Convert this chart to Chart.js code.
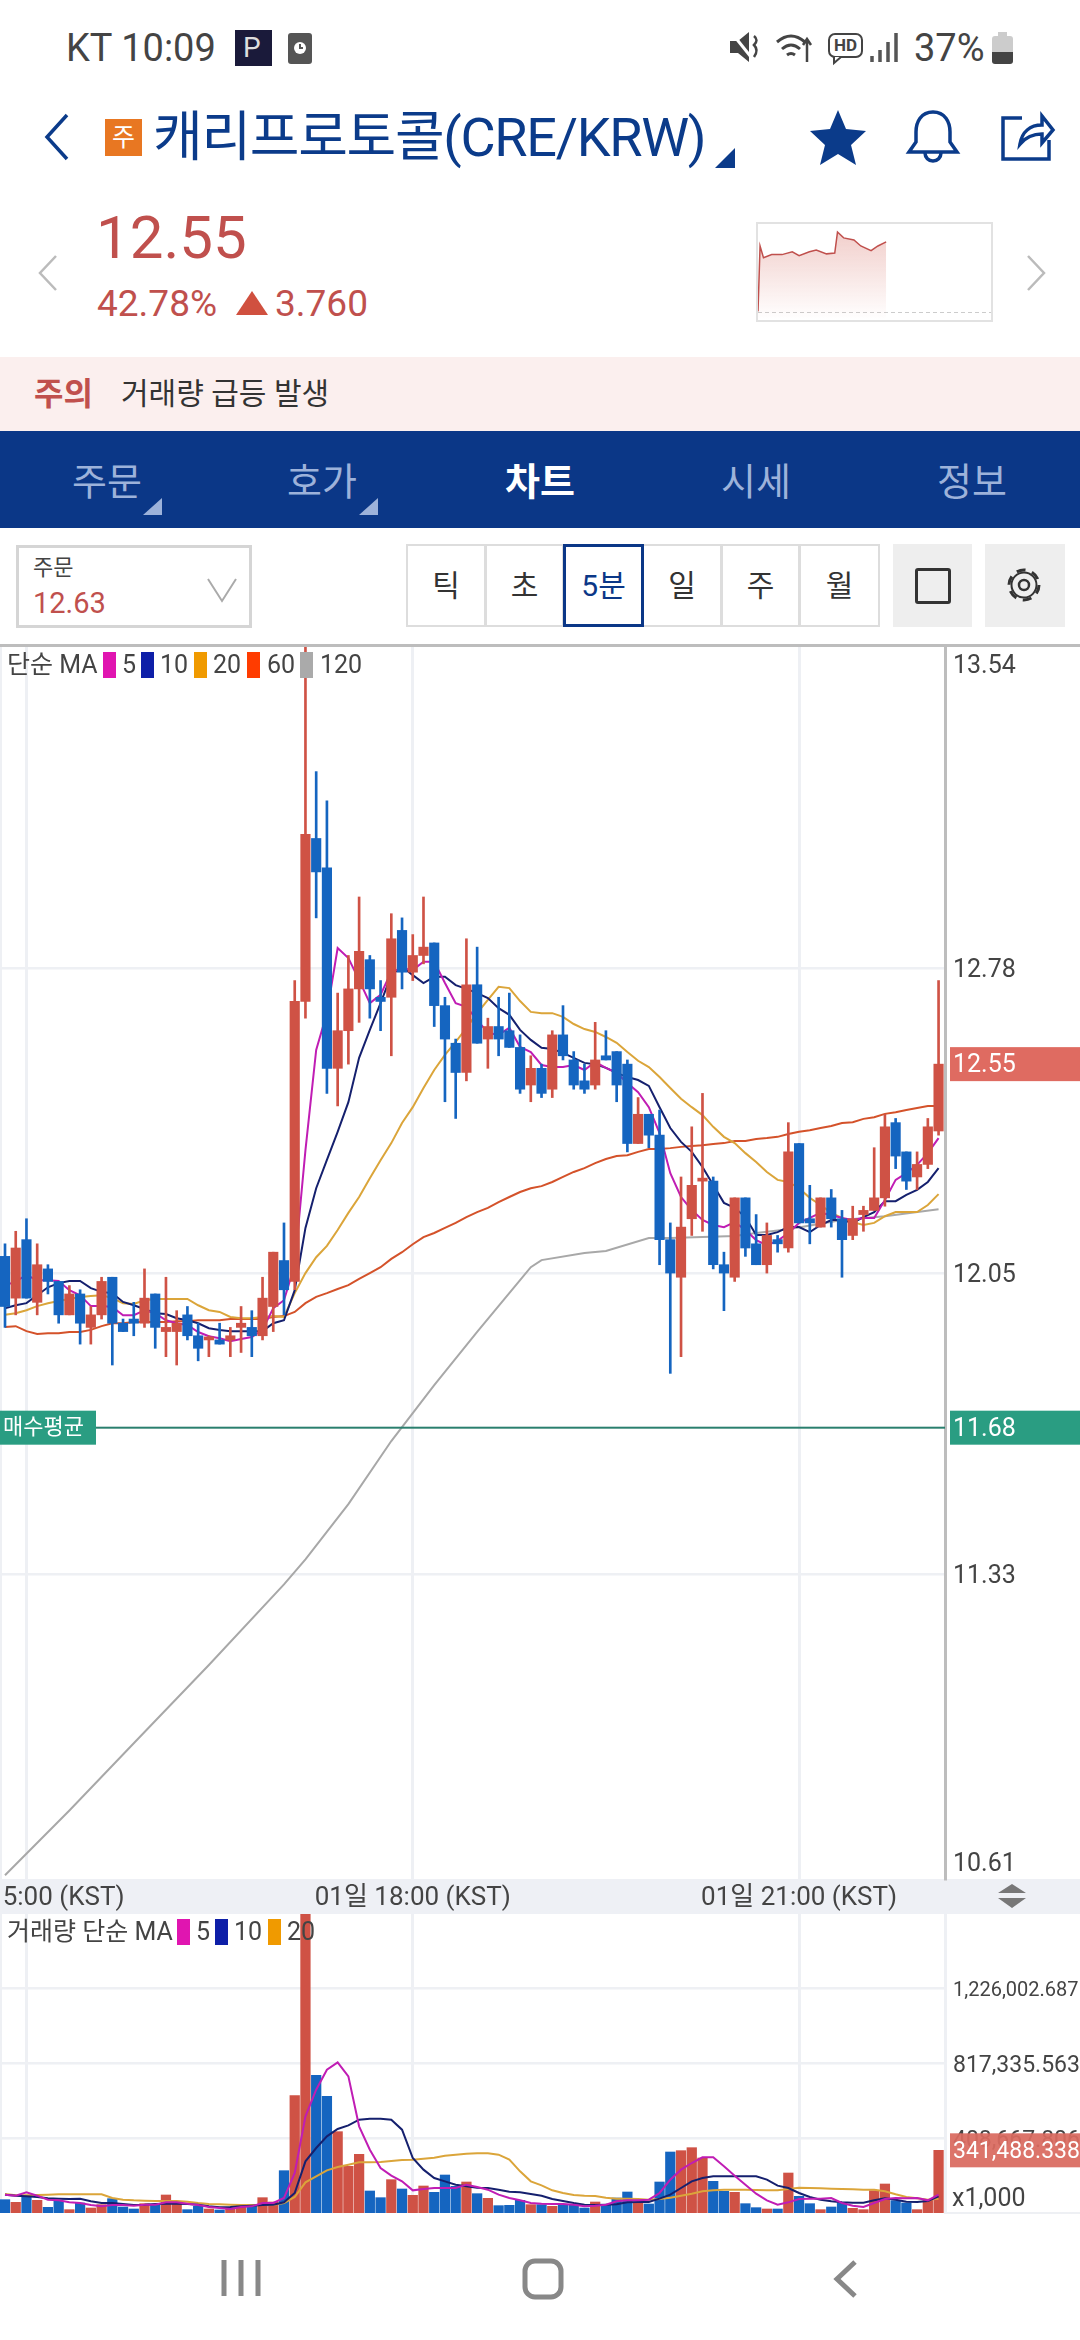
<!DOCTYPE html>
<html lang="ko">

<head>
  <meta charset="UTF-8" />
  <title>캐리프로토콜(CRE/KRW)</title>
  <script src="https://cdn.jsdelivr.net/npm/chart.js"></script>
  <style>
    html, body { margin: 0; padding: 0; background: #fff; }
    body { width: 1080px; height: 2340px; position: relative; overflow: hidden; font-family: Roboto, "Noto Sans CJK KR", sans-serif; color: #444; }
    .t { position: absolute; white-space: nowrap; }
    .b { position: absolute; box-sizing: border-box; }
    svg { position: absolute; overflow: visible; }
    canvas { position: absolute; left: 0; }
    .sw { position: absolute; width: 13px; height: 26px; }
    .cell { position: absolute; top: 544px; height: 83px; box-sizing: border-box; text-align: center; line-height: 79px; font-size: 30px; color: #333; border: 2px solid #ddd; background: #fff; }
    .tab { position: absolute; top: 434px; height: 97px; width: 200px; text-align: center; line-height: 97px; font-size: 38px; color: #9DB2DA; }
  </style>
</head>

<body>
  <!-- status bar -->
  <div class="t" style="left:66px;top:26px;font-size:38px;line-height:44px;color:#444">KT 10:09</div>
  <div class="b" style="left:235px;top:30px;width:37px;height:36px;background:#1A1A3A"></div>
  <div class="t" style="left:243px;top:31px;font-size:28px;line-height:34px;color:#ddd">P</div>
  <div class="b" style="left:288px;top:33px;width:24px;height:31px;background:#555;border-radius:3px"></div>
  <svg style="left:292px;top:40px" width="16" height="16"><circle cx="8" cy="8" r="6" fill="#fff"/><path d="M8 4v4h3" stroke="#555" stroke-width="2" fill="none"/></svg>
  <svg style="left:730px;top:30px" width="32" height="34"><path d="M0 11h8l11-9v30l-11-9H0z" fill="#444"/><path d="M1 2l24 30" stroke="#fff" stroke-width="3"/><path d="M24 6q5 4 0 9q5 5 0 12" stroke="#444" stroke-width="2.5" fill="none"/></svg>
  <svg style="left:776px;top:32px" width="40" height="32"><path d="M1 10q14-12 28 0M6 17q9-8 18 0M11 23q4-3 8 0" stroke="#444" stroke-width="3" fill="none"/><path d="M31 30V8m-4 5l4-6 4 6" stroke="#444" stroke-width="2.5" fill="none"/></svg>
  <svg style="left:828px;top:33px" width="36" height="32"><rect x="1" y="1" width="33" height="23" rx="6" stroke="#444" stroke-width="2" fill="none"/><path d="M6 24v6l7-6" stroke="#444" stroke-width="2" fill="#fff"/></svg>
  <div class="t" style="left:834px;top:35px;font-size:17px;line-height:20px;font-weight:bold;color:#444">HD</div>
  <svg style="left:870px;top:33px" width="30" height="30"><path d="M2 29v-6M10 29v-12M18 29v-20M26 29V0" stroke="#555" stroke-width="3.5"/></svg>
  <div class="t" style="left:914px;top:26px;font-size:38px;line-height:44px;color:#444">37%</div>
  <div class="b" style="left:992px;top:36px;width:21px;height:27px;background:#ccc;border-radius:3px"></div>
  <div class="b" style="left:992px;top:52px;width:21px;height:12px;background:#444;border-radius:0 0 3px 3px"></div>
  <div class="b" style="left:998px;top:32px;width:9px;height:4px;background:#ccc"></div>

  <!-- title row -->
  <svg style="left:43px;top:113px" width="26" height="48"><path d="M24 2L4 24l20 22" stroke="#0B3B8A" stroke-width="3.5" fill="none"/></svg>
  <div class="b" style="left:105px;top:119px;width:37px;height:37px;background:#E87722;color:#fff;font-size:25px;line-height:37px;text-align:center">주</div>
  <div class="t" id="title" style="left:153px;top:106px;font-size:54px;line-height:64px;color:#0B3B8A;letter-spacing:-1.3px">캐리프로토콜(CRE/KRW)</div>
  <svg style="left:715px;top:148px" width="20" height="20"><path d="M20 0v20H0z" fill="#0B3B8A"/></svg>
  <svg style="left:810px;top:110px" width="56" height="52"><path d="M28 0l8 19 20 2-15 14 5 20-18-11-18 11 5-20L0 21l20-2z" fill="#0B3B8A"/></svg>
  <svg style="left:905px;top:110px" width="56" height="54"><path d="M28 2c-12 0-17 10-17 20v10l-7 10h48l-7-10V22c0-10-5-20-17-20z" stroke="#0B3B8A" stroke-width="3.5" fill="none"/><path d="M20 43a8 8 0 0 0 16 0" stroke="#0B3B8A" stroke-width="3.5" fill="none"/></svg>
  <svg style="left:1000px;top:110px" width="54" height="52"><path d="M22 8H3v41h46V30" stroke="#0B3B8A" stroke-width="3.5" fill="none"/><path d="M20 34c2-12 10-19 22-19V6l11 14-11 13V24c-9 0-16 3-22 10z" stroke="#0B3B8A" stroke-width="3.5" fill="none"/></svg>

  <!-- price header -->
  <div class="t" style="left:96px;top:202px;font-size:60px;line-height:72px;color:#C0504D">12.55</div>
  <div class="t" style="left:97px;top:282px;font-size:37px;line-height:44px;color:#C0504D">42.78%</div>
  <svg style="left:236px;top:291px" width="32" height="24"><path d="M16 0l16 24H0z" fill="#D0503F"/></svg>
  <div class="t" style="left:275px;top:282px;font-size:37px;line-height:44px;color:#C0504D">3.760</div>
  <svg style="left:38px;top:255px" width="20" height="36"><path d="M18 1L2 18l16 17" stroke="#bbb" stroke-width="2.5" fill="none"/></svg>
  <svg style="left:1026px;top:255px" width="20" height="36"><path d="M2 1l16 17L2 35" stroke="#bbb" stroke-width="2.5" fill="none"/></svg>
  <div class="b" style="left:756px;top:222px;width:237px;height:100px;border:2px solid #E2E2E2"></div>
  <canvas id="sparkChart" width="233" height="96" style="left:758px;top:224px"></canvas>

  <!-- notice -->
  <div class="b" style="left:0;top:357px;width:1080px;height:74px;background:#FBEFEE"></div>
  <div class="t" style="left:34px;top:372px;font-size:32px;line-height:44px;font-weight:bold;color:#C0504D">주의</div>
  <div class="t" style="left:121px;top:372px;font-size:30px;line-height:44px;color:#333">거래량 급등 발생</div>

  <!-- tabs -->
  <div class="b" style="left:0;top:431px;width:1080px;height:97px;background:#0B3787"></div>
  <div class="tab" style="left:7px">주문</div>
  <div class="tab" style="left:222px">호가</div>
  <div class="tab" style="left:440px;color:#fff;font-weight:bold">차트</div>
  <div class="tab" style="left:656px">시세</div>
  <div class="tab" style="left:872px">정보</div>
  <svg style="left:143px;top:498px" width="19" height="17"><path d="M19 0v17H0z" fill="#9DB2DA"/></svg>
  <svg style="left:359px;top:498px" width="19" height="17"><path d="M19 0v17H0z" fill="#9DB2DA"/></svg>

  <!-- toolbar -->
  <div class="b" style="left:16px;top:545px;width:236px;height:83px;border:3px solid #D5D5D5"></div>
  <div class="t" style="left:33px;top:554px;font-size:22px;line-height:28px;color:#444">주문</div>
  <div class="t" style="left:33px;top:585px;font-size:29px;line-height:36px;color:#C0504D">12.63</div>
  <svg style="left:207px;top:578px" width="30" height="24"><path d="M1 1l14 22L29 1" stroke="#aaa" stroke-width="2" fill="none"/></svg>
  <div class="cell" style="left:406px;width:80px">틱</div>
  <div class="cell" style="left:485px;width:79px">초</div>
  <div class="cell" style="left:642px;width:80px">일</div>
  <div class="cell" style="left:721px;width:79px">주</div>
  <div class="cell" style="left:799px;width:81px">월</div>
  <div class="cell" style="left:563px;width:81px;border:3px solid #0B3787;color:#0B3787;line-height:77px">5분</div>
  <div class="b" style="left:893px;top:544px;width:79px;height:83px;background:#EEE"></div>
  <div class="b" style="left:915px;top:568px;width:36px;height:36px;border:3px solid #333;border-radius:3px"></div>
  <div class="b" style="left:985px;top:544px;width:80px;height:83px;background:#EEE"></div>
  <svg style="left:1005px;top:566px" width="38" height="38" viewBox="0 0 38 38"><circle cx="19" cy="19" r="15" stroke="#333" stroke-width="3" fill="none" stroke-dasharray="9 6.7"/><circle cx="19" cy="19" r="12.5" stroke="#333" stroke-width="2" fill="none"/><circle cx="19" cy="19" r="5" stroke="#333" stroke-width="2.5" fill="none"/></svg>

  <!-- chart panels -->
  <div class="b" style="left:0;top:647px;width:2px;height:1232px;background:#EEF0F4"></div>
  <div class="b" style="left:0;top:1914px;width:2px;height:299px;background:#EEF0F4"></div>
  <div class="b" style="left:0;top:1879px;width:1080px;height:35px;background:#EEF0F5"></div>
  <canvas id="priceChart" width="1080" height="1269" style="top:645px"></canvas>
  <canvas id="volumeChart" width="1080" height="300" style="top:1914px"></canvas>
  <div class="b" style="left:0;top:644px;width:1080px;height:3px;background:#BDBDBD"></div>
  <div class="b" style="left:945px;top:2212px;width:135px;height:2px;background:#EEF0F4"></div>

  <!-- price legend -->
  <div class="t" style="left:7px;top:650px;font-size:25px;line-height:30px">단순 MA</div>
  <div class="sw" style="left:103px;top:652px;background:#E015B0"></div>
  <div class="t" style="left:122px;top:650px;font-size:25px;line-height:30px">5</div>
  <div class="sw" style="left:141px;top:652px;background:#0E1FA8"></div>
  <div class="t" style="left:160px;top:650px;font-size:25px;line-height:30px">10</div>
  <div class="sw" style="left:194px;top:652px;background:#F09A00"></div>
  <div class="t" style="left:213px;top:650px;font-size:25px;line-height:30px">20</div>
  <div class="sw" style="left:247px;top:652px;background:#FF3C00"></div>
  <div class="t" style="left:267px;top:650px;font-size:25px;line-height:30px">60</div>
  <div class="sw" style="left:300px;top:652px;background:#AAAAAA"></div>
  <div class="t" style="left:320px;top:650px;font-size:25px;line-height:30px">120</div>

  <!-- time band arrows -->
  <svg style="left:997px;top:1884px" width="30" height="25"><path d="M15 0l14 9H1zM15 24L1 14h28z" fill="#777"/></svg>

  <!-- volume legend -->
  <div class="t" style="left:7px;top:1917px;font-size:25px;line-height:30px">거래량 단순 MA</div>
  <div class="sw" style="left:177px;top:1919px;background:#E015B0"></div>
  <div class="t" style="left:196px;top:1917px;font-size:25px;line-height:30px">5</div>
  <div class="sw" style="left:215px;top:1919px;background:#0E1FA8"></div>
  <div class="t" style="left:234px;top:1917px;font-size:25px;line-height:30px">10</div>
  <div class="sw" style="left:268px;top:1919px;background:#F09A00"></div>
  <div class="t" style="left:287px;top:1917px;font-size:25px;line-height:30px">20</div>
  <div class="t" style="left:952px;top:2183px;font-size:25px;line-height:30px">x1,000</div>

  <!-- android nav -->
  <svg style="left:221px;top:2258px" width="40" height="40"><path d="M3 2v36M20 2v36M37 2v36" stroke="#888" stroke-width="5"/></svg>
  <svg style="left:522px;top:2258px" width="42" height="42"><rect x="3" y="3" width="36" height="36" rx="10" stroke="#888" stroke-width="5" fill="none"/></svg>
  <svg style="left:834px;top:2260px" width="24" height="38"><path d="M21 2L3 19l18 17" stroke="#888" stroke-width="5" fill="none"/></svg>

  <script>
    // 5 minute candles
    const candleOpen = [12.09, 11.99, 12.13, 11.98, 12.06, 12.03, 11.95, 12.00, 11.92, 11.95, 12.04, 11.93, 11.94, 11.93, 12.00, 11.91, 11.91, 11.95, 11.90, 11.89, 11.89, 11.89, 11.92, 11.92, 11.90, 11.97, 12.08, 12.03, 12.70, 13.09, 13.02, 12.54, 12.63, 12.73, 12.80, 12.71, 12.71, 12.87, 12.77, 12.81, 12.84, 12.69, 12.60, 12.53, 12.74, 12.61, 12.64, 12.63, 12.59, 12.50, 12.54, 12.49, 12.62, 12.56, 12.51, 12.50, 12.57, 12.58, 12.55, 12.36, 12.43, 12.38, 12.13, 12.04, 12.18, 12.27, 12.27, 12.07, 12.04, 12.23, 12.12, 12.07, 12.13, 12.11, 12.36, 12.18, 12.16, 12.23, 12.18, 12.14, 12.19, 12.20, 12.23, 12.41, 12.34, 12.28, 12.31, 12.39]
    const candleHigh = [12.12, 12.15, 12.18, 12.12, 12.07, 12.03, 12.02, 12.01, 11.97, 12.04, 12.04, 11.94, 11.98, 12.06, 12.00, 12.04, 11.96, 11.97, 11.93, 11.90, 11.93, 11.92, 11.97, 11.96, 12.04, 12.10, 12.17, 12.75, 13.55, 13.25, 13.18, 12.72, 12.81, 12.95, 12.81, 12.75, 12.91, 12.90, 12.86, 12.95, 12.84, 12.71, 12.61, 12.85, 12.83, 12.66, 12.71, 12.72, 12.62, 12.57, 12.55, 12.63, 12.69, 12.58, 12.55, 12.65, 12.63, 12.58, 12.56, 12.47, 12.43, 12.44, 12.17, 12.28, 12.40, 12.48, 12.28, 12.10, 12.23, 12.23, 12.19, 12.17, 12.14, 12.41, 12.36, 12.26, 12.23, 12.25, 12.20, 12.21, 12.21, 12.35, 12.43, 12.42, 12.34, 12.34, 12.42, 12.75]
    const candleLow = [11.92, 11.95, 11.99, 11.95, 12.00, 11.93, 11.95, 11.88, 11.88, 11.94, 11.83, 11.91, 11.90, 11.92, 11.87, 11.85, 11.83, 11.89, 11.84, 11.85, 11.88, 11.85, 11.86, 11.85, 11.89, 11.91, 11.95, 12.01, 12.66, 12.90, 12.48, 12.45, 12.55, 12.65, 12.66, 12.63, 12.57, 12.73, 12.75, 12.79, 12.64, 12.46, 12.42, 12.51, 12.60, 12.54, 12.57, 12.59, 12.48, 12.46, 12.47, 12.47, 12.56, 12.49, 12.48, 12.49, 12.56, 12.46, 12.34, 12.36, 12.35, 12.07, 11.81, 11.85, 12.14, 12.15, 12.06, 11.96, 12.03, 12.09, 12.07, 12.05, 12.10, 12.10, 12.17, 12.12, 12.16, 12.16, 12.04, 12.13, 12.15, 12.20, 12.21, 12.30, 12.25, 12.25, 12.30, 12.38]
    const candleClose = [11.97, 12.11, 11.99, 12.07, 12.03, 11.95, 12.00, 11.93, 11.95, 12.03, 11.93, 11.91, 11.93, 11.99, 11.92, 11.92, 11.93, 11.90, 11.87, 11.89, 11.88, 11.90, 11.93, 11.90, 11.99, 12.10, 12.01, 12.70, 13.10, 13.01, 12.54, 12.63, 12.73, 12.82, 12.73, 12.70, 12.85, 12.77, 12.81, 12.83, 12.69, 12.61, 12.53, 12.74, 12.60, 12.64, 12.61, 12.59, 12.49, 12.54, 12.48, 12.62, 12.57, 12.50, 12.49, 12.56, 12.56, 12.50, 12.36, 12.43, 12.38, 12.13, 12.05, 12.16, 12.26, 12.27, 12.07, 12.05, 12.23, 12.11, 12.07, 12.14, 12.12, 12.34, 12.17, 12.17, 12.23, 12.18, 12.13, 12.18, 12.20, 12.23, 12.40, 12.33, 12.27, 12.31, 12.40, 12.55]

    const ma5 = [12.02, 12.03, 12.045, 12.033, 12.033, 12.031, 12.009, 11.997, 11.971, 11.971, 11.969, 11.949, 11.949, 11.961, 11.954, 11.937, 11.93, 11.926, 11.909, 11.899, 11.894, 11.887, 11.892, 11.897, 11.914, 11.966, 11.985, 12.069, 12.344, 12.584, 12.672, 12.828, 12.804, 12.751, 12.696, 12.716, 12.771, 12.78, 12.775, 12.795, 12.795, 12.744, 12.696, 12.687, 12.656, 12.625, 12.62, 12.637, 12.591, 12.579, 12.548, 12.543, 12.543, 12.548, 12.536, 12.555, 12.541, 12.529, 12.505, 12.483, 12.447, 12.385, 12.289, 12.232, 12.201, 12.177, 12.165, 12.16, 12.172, 12.153, 12.129, 12.117, 12.127, 12.146, 12.17, 12.182, 12.194, 12.189, 12.182, 12.177, 12.182, 12.182, 12.225, 12.273, 12.289, 12.309, 12.337, 12.373]
    const ma10 = [11.966, 11.973, 11.978, 11.997, 12.016, 12.026, 12.031, 12.031, 12.014, 12.005, 12.002, 11.981, 11.973, 11.964, 11.954, 11.952, 11.942, 11.937, 11.93, 11.918, 11.914, 11.911, 11.911, 11.911, 11.911, 11.93, 11.937, 12.009, 12.158, 12.253, 12.321, 12.388, 12.459, 12.565, 12.632, 12.696, 12.763, 12.783, 12.763, 12.744, 12.759, 12.759, 12.739, 12.73, 12.72, 12.708, 12.684, 12.668, 12.632, 12.608, 12.589, 12.586, 12.577, 12.565, 12.553, 12.55, 12.541, 12.529, 12.519, 12.512, 12.498, 12.447, 12.397, 12.364, 12.34, 12.304, 12.261, 12.218, 12.206, 12.184, 12.141, 12.141, 12.148, 12.16, 12.16, 12.148, 12.165, 12.177, 12.177, 12.17, 12.184, 12.196, 12.222, 12.222, 12.237, 12.249, 12.268, 12.301]
    const ma20 = [11.95, 11.954, 11.961, 11.971, 11.978, 11.983, 11.988, 11.993, 11.995, 11.997, 11.99, 11.978, 11.976, 11.985, 11.988, 11.988, 11.988, 11.988, 11.973, 11.961, 11.957, 11.945, 11.942, 11.942, 11.945, 11.947, 11.945, 12.002, 12.05, 12.088, 12.115, 12.153, 12.194, 12.232, 12.277, 12.32, 12.361, 12.409, 12.447, 12.493, 12.536, 12.572, 12.603, 12.637, 12.672, 12.704, 12.735, 12.732, 12.701, 12.675, 12.672, 12.672, 12.663, 12.646, 12.634, 12.627, 12.615, 12.601, 12.579, 12.558, 12.543, 12.519, 12.493, 12.467, 12.447, 12.428, 12.4, 12.376, 12.361, 12.337, 12.316, 12.292, 12.273, 12.268, 12.253, 12.23, 12.213, 12.194, 12.182, 12.172, 12.165, 12.17, 12.186, 12.196, 12.196, 12.196, 12.213, 12.239]
    const ma60 = [11.921, 11.923, 11.911, 11.904, 11.906, 11.906, 11.909, 11.909, 11.914, 11.923, 11.93, 11.93, 11.933, 11.933, 11.933, 11.933, 11.935, 11.935, 11.937, 11.937, 11.937, 11.94, 11.94, 11.94, 11.94, 11.945, 11.947, 11.957, 11.978, 11.993, 12.002, 12.012, 12.021, 12.036, 12.05, 12.064, 12.084, 12.1, 12.119, 12.136, 12.146, 12.158, 12.17, 12.184, 12.196, 12.206, 12.22, 12.232, 12.244, 12.253, 12.258, 12.268, 12.28, 12.292, 12.301, 12.313, 12.323, 12.33, 12.332, 12.34, 12.347, 12.347, 12.349, 12.352, 12.354, 12.356, 12.359, 12.361, 12.366, 12.366, 12.371, 12.373, 12.376, 12.383, 12.388, 12.392, 12.397, 12.402, 12.409, 12.411, 12.419, 12.423, 12.431, 12.435, 12.44, 12.445, 12.45, 12.45]
    // the 120 line is nearly straight, only its bends were read
    const ma120Index = [0, 6, 12, 19, 26, 28, 32, 36, 40, 44, 48, 49, 50, 54, 56, 60, 62, 68, 70, 73, 78, 82, 87]
    const ma120 = [10.609, 10.764, 10.925, 11.112, 11.305, 11.365, 11.497, 11.648, 11.782, 11.909, 12.033, 12.064, 12.081, 12.098, 12.103, 12.134, 12.134, 12.139, 12.146, 12.155, 12.177, 12.186, 12.203]

    const volume = [72600, 58100, 87200, 69000, 30900, 63600, 18200, 54500, 27200, 45400, 78100, 32700, 21800, 50800, 45400, 98100, 49000, 18200, 36300, 21800, 16300, 27200, 45400, 36300, 83500, 59900, 230600, 639200, 1650000, 750000, 635600, 443100, 254200, 319600, 119900, 83500, 181600, 130800, 96200, 147100, 112600, 207000, 145300, 168900, 105300, 79900, 40000, 41800, 69000, 45400, 45400, 36300, 41800, 45400, 27200, 59900, 45400, 81700, 114400, 54500, 49000, 168900, 332300, 339600, 355900, 299600, 172500, 118000, 112600, 50800, 29100, 21800, 21800, 217900, 90800, 50800, 18200, 32700, 54500, 25400, 18200, 121700, 158000, 67200, 54500, 18200, 72600, 341488]
    const volMa5 = [99900, 94400, 112600, 94400, 72600, 69000, 58100, 54500, 43600, 36300, 43600, 43600, 40000, 45400, 45400, 58100, 58100, 50800, 43600, 32700, 27200, 21800, 32700, 36300, 54500, 54500, 81700, 217900, 526600, 671900, 780900, 820800, 744600, 472200, 345000, 245200, 203400, 172500, 123500, 130800, 136200, 136200, 136200, 154400, 141600, 127100, 99900, 81700, 69000, 54500, 50800, 49000, 49000, 45400, 36300, 40000, 45400, 63600, 69000, 69000, 72600, 109000, 181600, 236100, 272400, 303300, 303300, 254200, 203400, 154400, 105300, 69000, 45400, 58100, 76300, 78100, 78100, 81700, 54500, 40000, 32700, 54500, 76300, 81700, 79900, 81700, 69000, 99900]
    const volMa10 = [99900, 94400, 90800, 87200, 79900, 78100, 76300, 78100, 63600, 54500, 54500, 49000, 43600, 45400, 49000, 50800, 50800, 49000, 45400, 36300, 30900, 32700, 36300, 40000, 43600, 45400, 58100, 109000, 281500, 354100, 417700, 457600, 477600, 508500, 513900, 513900, 508500, 454000, 299600, 236100, 190700, 172500, 154400, 145300, 138000, 136200, 127100, 116200, 112600, 103500, 94400, 76300, 65400, 54500, 45400, 43600, 45400, 47200, 58100, 59900, 59900, 78100, 99900, 136200, 172500, 190700, 199800, 199800, 199800, 199800, 199800, 181600, 148900, 136200, 109000, 87200, 72600, 63600, 58100, 56300, 56300, 69000, 79900, 72600, 61700, 59900, 65400, 90800]
    const volMa20 = [103500, 96200, 96200, 98100, 99900, 101700, 101700, 101700, 101700, 101700, 81700, 72600, 69000, 67200, 65400, 65400, 65400, 61700, 54500, 49000, 47200, 45400, 43600, 43600, 43600, 43600, 54500, 87200, 167100, 199800, 232400, 250600, 263300, 276000, 276000, 277800, 283300, 288700, 290600, 296000, 301500, 312400, 317800, 323200, 325100, 325100, 317800, 290600, 227000, 172500, 150700, 123500, 109000, 98100, 94400, 92600, 83500, 78100, 78100, 76300, 72600, 76300, 83500, 94400, 105300, 118000, 123500, 127100, 127100, 127100, 125300, 123500, 123500, 130800, 138000, 136200, 134400, 132600, 130800, 128900, 127100, 127100, 118000, 101700, 87200, 79900, 72600, 78100]

    const priceTicks = [13.54, 12.78, 12.05, 11.33, 10.61]
    const priceTickLabels = ['13.54', '12.78', '12.05', '11.33', '10.61']
    const timeTicks = [2, 38, 74]
    const timeTickLabels = ['01일 15:00 (KST)', '01일 18:00 (KST)', '01일 21:00 (KST)']
    const volumeTicks = [408667.806, 817335.563, 1226002.687]
    const volumeTickLabels = ['408,667.806', '817,335.563', '1,226,002.687']

    const lastPrice = 12.55
    const avgPrice = 11.68
    const lastVolume = 341488.338

    // day line in the header box
    const sparkTime = [0, 3, 8, 20, 35, 50, 60, 75, 85, 100, 112, 116, 125, 140, 150, 165, 175, 187]
    const sparkPrice = [8.85, 12.33, 11.70, 11.87, 11.87, 12.02, 11.81, 12.02, 12.12, 11.91, 11.95, 13.07, 12.76, 12.65, 12.33, 12.08, 12.33, 12.55]
    const prevClose = 8.79

    const RED = '#CF5245'
    const BLUE = '#1565C0'
    const FONT = 'Roboto, "Noto Sans CJK KR", sans-serif'
    const GRID = '#EEF0F4'

    Chart.defaults.animation = false
    Chart.defaults.font.family = FONT
    Chart.defaults.plugins.legend.display = false
    Chart.defaults.plugins.tooltip.enabled = false

    const idx = candleOpen.map((_, i) => i)
    const barColors = idx.map(i => candleClose[i] >= candleOpen[i] ? RED : BLUE)

    function maLine(values, color, order, xs) {
      return {
        type: 'line',
        data: values.map((v, i) => ({ x: xs ? xs[i] : i, y: v })),
        borderColor: color,
        borderWidth: 2,
        pointRadius: 0,
        tension: 0,
        order: order
      }
    }

    // x positions: candle i sits at 5 + 10.73 * i px
    const xMin = -0.466
    const xMax = 87.6

    // tags and the two edge labels of the price axis
    const priceTags = {
      id: 'priceTags',
      afterDraw(chart) {
        const ctx = chart.ctx
        const y = chart.scales.y
        const a = chart.chartArea
        ctx.save()
        ctx.font = '25px ' + FONT
        ctx.textBaseline = 'middle'
        ctx.fillStyle = '#444'
        ctx.fillText(priceTickLabels[0], 953, y.getPixelForValue(priceTicks[0]) + 16)
        ctx.fillText(priceTickLabels[4], 953, y.getPixelForValue(priceTicks[4]) - 10)

        const py = y.getPixelForValue(lastPrice)
        ctx.fillStyle = '#DF6B61'
        ctx.fillRect(950, py - 17, 130, 34)
        ctx.fillStyle = '#fff'
        ctx.fillText(lastPrice.toFixed(2), 953, py + 2)

        const ay = y.getPixelForValue(avgPrice)
        ctx.fillStyle = '#2A7F6E'
        ctx.fillRect(96, ay - 1, a.right - 96, 2)
        ctx.fillStyle = '#2A9D82'
        ctx.fillRect(950, ay - 17, 130, 34)
        ctx.fillRect(0, ay - 17, 96, 34)
        ctx.fillStyle = '#fff'
        ctx.fillText(avgPrice.toFixed(2), 953, ay + 2)
        ctx.font = '22px ' + FONT
        ctx.fillText('매수평균', 3, ay + 1)
        ctx.restore()
      }
    }

    new Chart(document.getElementById('priceChart'), {
      type: 'bar',
      data: {
        datasets: [
          {
            data: idx.map(i => ({ x: i, y: [candleOpen[i], candleClose[i]] })),
            backgroundColor: barColors,
            barThickness: 9.5,
            minBarLength: 3,
            grouped: false,
            order: 1
          },
          {
            data: idx.map(i => ({ x: i, y: [candleLow[i], candleHigh[i]] })),
            backgroundColor: barColors,
            barThickness: 2,
            grouped: false,
            order: 2
          },
          maLine(ma5, '#C01DB4', 3),
          maLine(ma10, '#15206E', 4),
          maLine(ma20, '#DBA53A', 5),
          maLine(ma60, '#D4522A', 6),
          maLine(ma120, '#A8A8A8', 7, ma120Index)
        ]
      },
      options: {
        responsive: false,
        devicePixelRatio: 1,
        layout: { padding: 0 },
        scales: {
          x: {
            type: 'linear',
            offset: false,
            min: xMin,
            max: xMax,
            afterBuildTicks: s => { s.ticks = timeTicks.map(v => ({ value: v })) },
            afterFit: s => { s.height = 35; s.paddingLeft = 0; s.paddingRight = 0 },
            ticks: {
              autoSkip: false,
              maxRotation: 0,
              minRotation: 0,
              padding: 4,
              color: '#444',
              font: { size: 26 },
              callback: v => timeTickLabels[timeTicks.indexOf(v)]
            },
            grid: { offset: false, drawTicks: false, color: GRID, lineWidth: 3 },
            border: { display: false }
          },
          y: {
            type: 'linear',
            position: 'right',
            min: 10.6,
            max: 13.553,
            afterBuildTicks: s => { s.ticks = priceTicks.map(v => ({ value: v })) },
            afterFit: s => { s.width = 135; s.paddingTop = 0; s.paddingBottom = 0 },
            ticks: {
              padding: 8,
              labelOffset: 3,
              color: '#444',
              font: { size: 25 },
              callback: v => (v === priceTicks[0] || v === priceTicks[4]) ? '' : priceTickLabels[priceTicks.indexOf(v)]
            },
            grid: {
              drawTicks: false,
              lineWidth: 2.5,
              color: c => (c.tick.value === priceTicks[0] || c.tick.value === priceTicks[4]) ? 'rgba(0,0,0,0)' : GRID
            },
            border: { color: '#BDBDBD', width: 3 }
          }
        }
      },
      plugins: [priceTags]
    })

    const volumeTag = {
      id: 'volumeTag',
      afterDraw(chart) {
        const ctx = chart.ctx
        const py = chart.scales.y.getPixelForValue(lastVolume)
        ctx.save()
        ctx.fillStyle = 'rgba(217,105,95,0.93)'
        ctx.fillRect(950, py - 17, 130, 34)
        ctx.fillStyle = '#fff'
        ctx.font = '23px ' + FONT
        ctx.textBaseline = 'middle'
        ctx.fillText(lastVolume.toLocaleString('en-US', { minimumFractionDigits: 3 }), 953, py + 2)
        ctx.restore()
      }
    }

    new Chart(document.getElementById('volumeChart'), {
      type: 'bar',
      data: {
        datasets: [
          {
            data: idx.map(i => ({ x: i, y: volume[i] })),
            backgroundColor: barColors,
            barThickness: 9.6,
            grouped: false,
            order: 5
          },
          maLine(volMa5, '#C01DB4', 1),
          maLine(volMa10, '#15206E', 2),
          maLine(volMa20, '#DBA53A', 3)
        ]
      },
      options: {
        responsive: false,
        devicePixelRatio: 1,
        layout: { padding: { bottom: 1 } },
        scales: {
          x: {
            type: 'linear',
            offset: false,
            min: xMin,
            max: xMax,
            afterBuildTicks: s => { s.ticks = timeTicks.map(v => ({ value: v })) },
            afterFit: s => { s.height = 0; s.paddingLeft = 0; s.paddingRight = 0 },
            ticks: { display: false },
            grid: { offset: false, drawTicks: false, color: GRID, lineWidth: 3 },
            border: { display: false }
          },
          y: {
            type: 'linear',
            position: 'right',
            min: 0,
            max: 1629000,
            afterBuildTicks: s => { s.ticks = volumeTicks.map(v => ({ value: v })) },
            afterFit: s => { s.width = 135; s.paddingTop = 0; s.paddingBottom = 0 },
            ticks: {
              padding: 8,
              labelOffset: 3,
              color: '#444',
              font: c => ({ size: c.tick && c.tick.value > 1000000 ? 20 : 23 }),
              callback: v => volumeTickLabels[volumeTicks.indexOf(v)]
            },
            grid: { drawTicks: false, color: GRID, lineWidth: 2.5 },
            border: { color: GRID, width: 3 }
          }
        }
      },
      plugins: [volumeTag]
    })

    const sparkCanvas = document.getElementById('sparkChart')
    const sparkFill = sparkCanvas.getContext('2d').createLinearGradient(0, 0, 0, 96)
    sparkFill.addColorStop(0, 'rgba(207,82,69,0.30)')
    sparkFill.addColorStop(1, 'rgba(207,82,69,0)')

    new Chart(sparkCanvas, {
      type: 'line',
      data: {
        datasets: [
          {
            data: sparkTime.map((t, i) => ({ x: t, y: sparkPrice[i] })),
            borderColor: '#C0504D',
            borderWidth: 1.5,
            backgroundColor: sparkFill,
            fill: 'start',
            pointRadius: 0,
            tension: 0
          },
          {
            data: [{ x: 0, y: prevClose }, { x: 340, y: prevClose }],
            borderColor: '#CCC',
            borderWidth: 1,
            borderDash: [4, 3],
            pointRadius: 0
          }
        ]
      },
      options: {
        responsive: false,
        devicePixelRatio: 1,
        scales: {
          x: { type: 'linear', display: false, min: 0, max: 340 },
          y: { display: false, min: 8.39, max: 13.5 }
        }
      }
    })
  </script>
</body>

</html>
